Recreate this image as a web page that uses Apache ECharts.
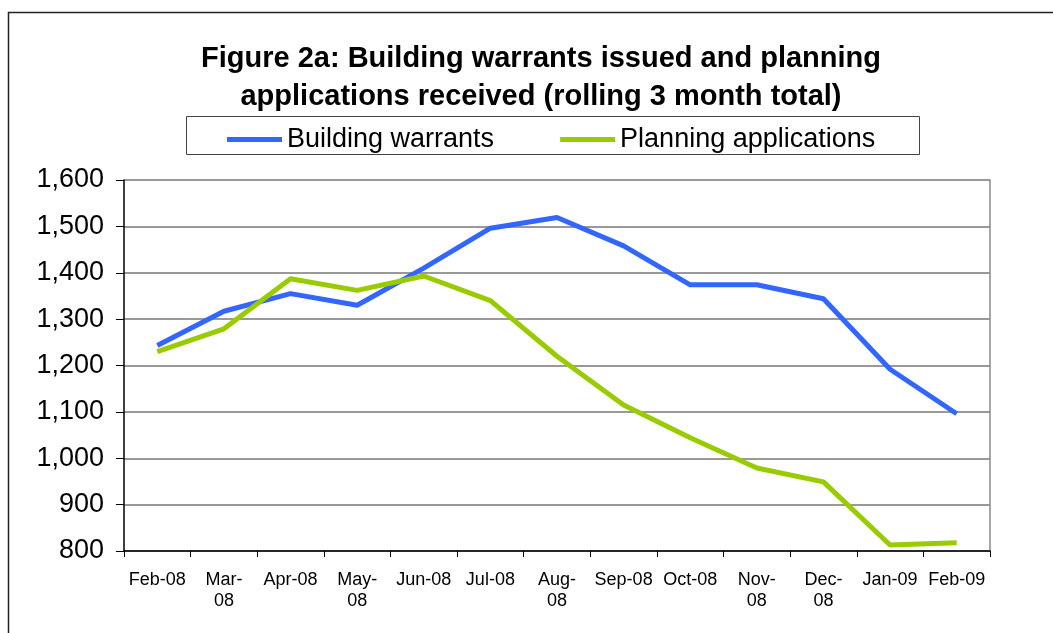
<!DOCTYPE html>
<html>
<head>
<meta charset="utf-8">
<script src="https://cdn.jsdelivr.net/npm/echarts@6/dist/echarts.min.js"></script>
<style>
  * { margin: 0; padding: 0; }
  body { background: #fff; }
  #chart { width: 1053px; height: 633px; }
</style>
</head>
<body>
<div id="chart"></div>
<script>
// month labels (long ones wrap like in the original)
var months = ['Feb-08', 'Mar-\n08', 'Apr-08', 'May-\n08', 'Jun-08', 'Jul-08', 'Aug-\n08',
  'Sep-08', 'Oct-08', 'Nov-\n08', 'Dec-\n08', 'Jan-09', 'Feb-09']
var buildingWarrants = [1243, 1317, 1355, 1330, 1410, 1496, 1519, 1458, 1374, 1374, 1344, 1192, 1096]
var planningApps = [1230, 1279, 1387, 1362, 1393, 1340, 1220, 1115, 1044, 979, 949, 813, 818]
var yMin = 800, yMax = 1600, yStep = 100

var font = 'Liberation Sans, Arial, sans-serif'
var chart = echarts.init(document.getElementById('chart'))

chart.setOption({
  animation: false,
  textStyle: { fontFamily: font },
  graphic: [
    // outer frame (runs off the right/bottom of the picture)
    { type: 'rect', shape: { x: 8.5, y: 12.5, width: 1200, height: 800 }, style: { fill: null, stroke: '#222', lineWidth: 1.5 }, silent: true },
    // legend box
    { type: 'rect', shape: { x: 186.5, y: 116.5, width: 733, height: 38 }, style: { fill: null, stroke: '#444', lineWidth: 1 }, silent: true },
    {
      type: 'text', x: 541, y: 40,
      style: {
        text: 'Figure 2a: Building warrants issued and planning\napplications received (rolling 3 month total)',
        font: 'bold 29px ' + font, fill: '#000', align: 'center', lineHeight: 38
      }
    }
  ],
  legend: {
    left: 222, top: 121,
    itemGap: 66,
    itemWidth: 55, itemHeight: 5,
    icon: 'rect',
    textStyle: { fontSize: 27, color: '#000', fontFamily: font },
    data: ['Building warrants', 'Planning applications']
  },
  grid: { left: 124, right: 63, top: 180, bottom: 82 },
  xAxis: {
    type: 'category',
    data: months,
    boundaryGap: true,
    axisLine: { lineStyle: { color: '#000', width: 1.5 } },
    axisTick: { show: true, length: 6, lineStyle: { color: '#000' } },
    axisLabel: { fontSize: 18, color: '#000', lineHeight: 21, margin: 19, interval: 0 },
    splitLine: { show: false }
  },
  yAxis: [
    {
      type: 'value',
      min: yMin, max: yMax, interval: yStep,
      axisLine: { show: true, lineStyle: { color: '#000', width: 1.5 } },
      axisTick: { show: true, length: 8, lineStyle: { color: '#000' } },
      axisLabel: {
        fontSize: 27, color: '#000', margin: 20,
        formatter: function (v) { return v.toLocaleString('en-US') }
      },
      splitLine: { show: true, lineStyle: { color: '#777', width: 1.5 } }
    },
    {
      // right edge of the plot frame
      type: 'value', position: 'right',
      min: yMin, max: yMax, interval: yStep,
      axisLine: { show: true, lineStyle: { color: '#888', width: 1.5 } },
      axisTick: { show: false }, axisLabel: { show: false }, splitLine: { show: false }
    }
  ],
  series: [
    {
      name: 'Building warrants', type: 'line', data: buildingWarrants,
      symbol: 'none', lineStyle: { color: '#3366FF', width: 5 }, itemStyle: { color: '#3366FF' }
    },
    {
      name: 'Planning applications', type: 'line', data: planningApps,
      symbol: 'none', lineStyle: { color: '#99CC00', width: 5 }, itemStyle: { color: '#99CC00' }
    }
  ]
})
</script>
</body>
</html>
